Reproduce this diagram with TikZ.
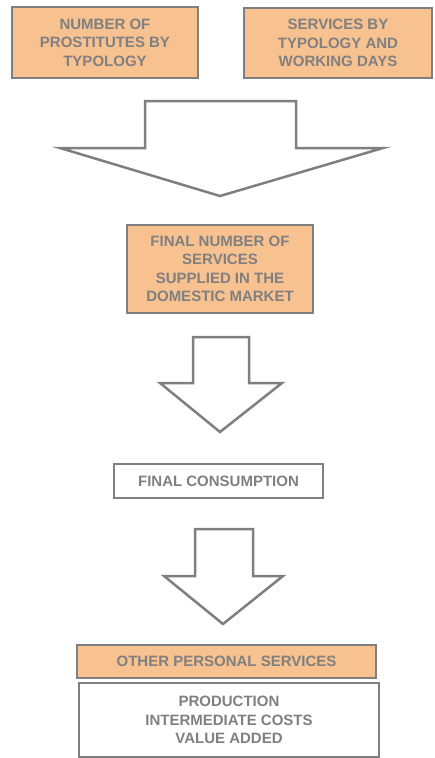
\documentclass[tikz,border=0pt]{standalone}
\usepackage{fontspec}
\setmainfont{Liberation Sans}
\definecolor{boxorange}{HTML}{F8C190}
\definecolor{linegray}{HTML}{7F7F7F}
\definecolor{textgray}{HTML}{808080}
\tikzset{
	stepbox/.style={rectangle, draw=linegray, line width=2.5pt, align=center, inner sep=0pt,
		text=textgray, font=\fontsize{15}{18.5}\selectfont\bfseries},
	orangebox/.style={stepbox, fill=boxorange},
	whitebox/.style={stepbox, fill=white},
	blockarrow/.style={draw=linegray, line width=2.5pt, fill=white, line join=miter}
}
\begin{document}
\begin{tikzpicture}[x=1pt,y=-1pt]
	\useasboundingbox (0,0) rectangle (434,758);
	% inputs
	\node[orangebox, minimum width=186pt, minimum height=71pt] (prost) at (105,42.5) {NUMBER OF\\PROSTITUTES BY\\TYPOLOGY};
	\node[orangebox, minimum width=188pt, minimum height=70pt] (servtyp) at (338,43) {SERVICES BY\\TYPOLOGY AND\\WORKING DAYS};
	% big arrow
	\draw[blockarrow] (145,101) -- (296,101) -- (296,148) -- (383,148) -- (220,196) -- (60,148) -- (145,148) -- cycle;
	\node[orangebox, minimum width=186pt, minimum height=88pt] (finnum) at (220,269) {FINAL NUMBER OF\\SERVICES\\SUPPLIED IN THE\\DOMESTIC MARKET};
	\draw[blockarrow] (193,337) -- (249,337) -- (249,383) -- (282,383) -- (220,432) -- (160,383) -- (193,383) -- cycle;
	\node[whitebox, minimum width=209pt, minimum height=34pt] (fincons) at (218.5,481) {FINAL CONSUMPTION};
	\draw[blockarrow] (195,529) -- (253,529) -- (253,576) -- (283,576) -- (223,624) -- (164,576) -- (195,576) -- cycle;
	% output
	\node[orangebox, minimum width=299pt, minimum height=33pt] (othpers) at (226.5,661.5) {OTHER PERSONAL SERVICES};
	\node[whitebox, minimum width=300pt, minimum height=74pt] (prodbox) at (229,720) {PRODUCTION\\INTERMEDIATE COSTS\\VALUE ADDED};
\end{tikzpicture}
\end{document}
